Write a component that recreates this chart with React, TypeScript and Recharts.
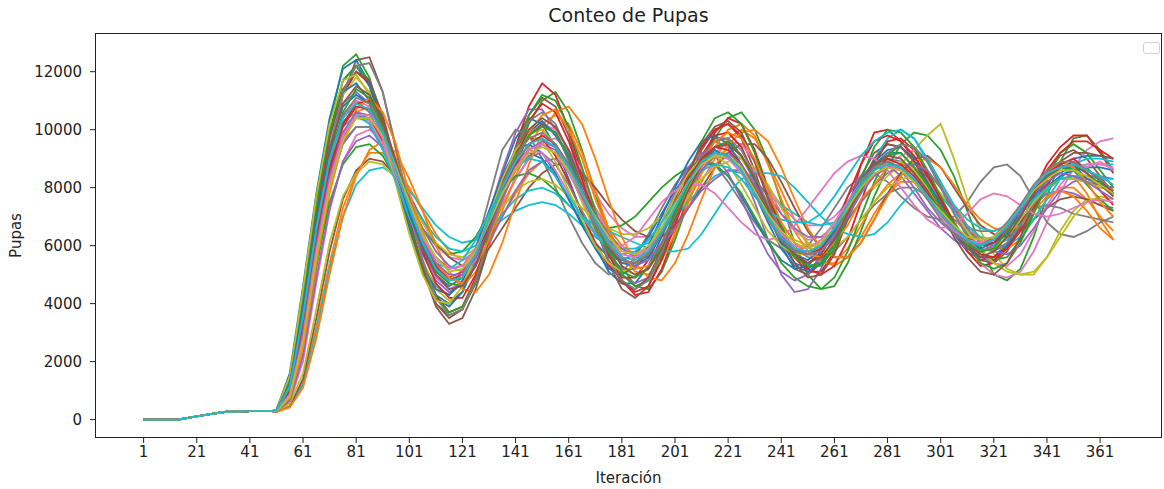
import React from 'react';
import { Line, LineChart, XAxis, YAxis, Label } from 'recharts';

// shared start of every run (all runs coincide here)
const earlyIters = [1, 14, 21, 26, 32, 41, 49];
const earlyPupas = [0, 0, 110, 190, 270, 290, 290];

// sampled iterations for each run after the start
const iters = [
  51, 56, 61, 66, 71, 76, 81, 86, 91, 96, 101, 106, 111, 116, 121, 126,
  131, 136, 141, 146, 151, 156, 161, 166, 171, 176, 181, 186, 191, 196, 201, 206,
  211, 216, 221, 226, 231, 236, 241, 246, 251, 256, 261, 266, 271, 276, 281, 286,
  291, 296, 301, 306, 311, 316, 321, 326, 331, 336, 341, 346, 351, 356, 361, 366,
];

const run01 = [
  320, 1400, 4200, 7300, 9800, 11700, 12200, 11500, 10000, 8400, 6800, 5300, 4200, 3900, 4400, 5600,
  7100, 8500, 9700, 10400, 10200, 9400, 8300, 7100, 6000, 5100, 4700, 4700, 5300, 6300, 7300, 8300,
  9100, 9700, 9700, 9100, 8200, 7100, 6100, 5400, 5200, 5500, 6300, 7200, 8100, 8800, 9200, 9200,
  8700, 8000, 7200, 6400, 5800, 5500, 5600, 6100, 6800, 7600, 8300, 8700, 8800, 8500, 8100, 7800,
];
const run02 = [
  280, 450, 1300, 3200, 5400, 7300, 8500, 9200, 9200, 8700, 8000, 7200, 6400, 5800, 5500, 5700,
  6300, 7000, 7800, 8500, 8900, 9000, 8700, 8100, 7300, 6600, 6000, 5700, 5600, 5900, 6500, 7300,
  8200, 9000, 9700, 10000, 9700, 8900, 7900, 6900, 6000, 5500, 5300, 5600, 6300, 7100, 7800, 8200,
  8200, 7900, 7400, 6900, 6500, 6300, 6200, 6300, 6700, 7300, 7900, 8300, 8400, 7800, 6900, 6200,
];
const run03 = [
  330, 1500, 4400, 7600, 10200, 12200, 12600, 11800, 10200, 8400, 6600, 5100, 4000, 3600, 3800, 4700,
  6000, 7600, 9000, 10200, 11000, 11300, 10600, 9300, 7800, 6400, 5300, 4600, 4500, 5100, 6200, 7500,
  8700, 9700, 10400, 10600, 10000, 8900, 7500, 6100, 5000, 4500, 4600, 5400, 6500, 7700, 8700, 9500,
  9900, 9800, 9300, 8400, 7200, 6000, 5000, 4800, 5200, 6300, 7700, 8900, 9700, 9800, 9300, 8600,
];
const run04 = [
  300, 1100, 3700, 6800, 9400, 11200, 12000, 11600, 10300, 8700, 7000, 5500, 4300, 3700, 3900, 4900,
  6300, 7900, 9400, 10800, 11600, 11200, 10000, 8500, 7000, 5800, 4800, 4300, 4400, 5200, 6400, 7700,
  8900, 9900, 10400, 10200, 9300, 8000, 6600, 5600, 5100, 5100, 5800, 7200, 8800, 9900, 10000, 9600,
  9000, 8300, 7500, 6600, 5800, 5300, 5400, 6000, 7000, 7900, 8800, 9400, 9800, 9800, 9200, 8500,
];
const run05 = [
  290, 700, 2600, 5600, 8000, 9500, 10100, 10100, 9400, 8300, 7100, 6000, 5200, 4800, 4900, 5500,
  6400, 7400, 8300, 9000, 9500, 9300, 8600, 7600, 6600, 5700, 5000, 4700, 4900, 5700, 6800, 8000,
  9000, 9600, 9400, 8600, 7500, 6200, 5000, 4400, 4500, 5200, 6200, 7300, 8300, 8900, 9000, 8600,
  8000, 7300, 6800, 6400, 6000, 5800, 5900, 6300, 6900, 7400, 7800, 7900, 7800, 7600, 7400, 7300,
];
const run06 = [
  270, 800, 3000, 6200, 9000, 11200, 12400, 12500, 11300, 9300, 7100, 5200, 3900, 3300, 3500, 4500,
  6000, 7700, 9300, 10500, 11100, 10800, 9800, 8300, 6700, 5400, 4500, 4200, 4600, 5600, 6900, 8200,
  9300, 10000, 10200, 9700, 8600, 7200, 6000, 5200, 5000, 5400, 6300, 7400, 8400, 9200, 9500, 9400,
  9000, 8300, 7500, 6700, 6000, 5500, 5400, 5800, 6600, 7600, 8500, 9100, 9300, 9000, 8400, 7800,
];
const run07 = [
  280, 600, 2000, 4700, 7200, 8900, 9800, 10000, 9600, 8800, 7800, 6800, 6000, 5600, 5500, 5800,
  6500, 7400, 8300, 9000, 9600, 9700, 9300, 8600, 7800, 7100, 6600, 6300, 6300, 6600, 7100, 7700,
  8300, 8800, 9100, 9000, 8600, 8000, 7400, 6900, 6700, 6700, 7000, 7500, 8000, 8400, 8700, 8800,
  8700, 8300, 7600, 6800, 6000, 5400, 5000, 4900, 5100, 5800, 6800, 7800, 8700, 9300, 9600, 9700,
];
const run08 = [
  310, 1200, 3800, 6800, 9100, 10500, 11000, 10600, 9600, 8200, 6700, 5400, 4600, 4300, 4700, 5900,
  7600, 9300, 10000, 9800, 9000, 8000, 7000, 6100, 5400, 5000, 5100, 5600, 6400, 7300, 8100, 8700,
  9000, 8800, 8200, 7500, 6800, 6200, 5900, 5800, 6000, 6600, 7300, 8000, 8400, 8500, 8200, 7700,
  7300, 7000, 6900, 7000, 7500, 8200, 8700, 8800, 8400, 7600, 6800, 6400, 6300, 6500, 6800, 7000,
];
const run09 = [
  300, 1200, 3900, 7000, 9500, 11200, 11800, 11300, 10000, 8400, 6800, 5500, 4500, 4100, 4400, 5400,
  6800, 8100, 9200, 9900, 10000, 9500, 8600, 7500, 6500, 5700, 5200, 5000, 5200, 5900, 6800, 7700,
  8500, 9100, 9300, 9000, 8300, 7500, 6700, 6200, 6000, 6100, 6500, 7000, 7500, 8000, 8400, 8800,
  9300, 9800, 10200, 9000, 7600, 6500, 5700, 5200, 5000, 5000, 5600, 6500, 7200, 7600, 7600, 7500,
];
const run10 = [
  270, 450, 1200, 3000, 5200, 7000, 8100, 8600, 8700, 8400, 7900, 7300, 6700, 6300, 6100, 6200,
  6500, 6900, 7200, 7400, 7500, 7400, 7100, 6700, 6300, 6000, 5900, 5900, 6100, 6500, 7000, 7500,
  8000, 8400, 8600, 8500, 8200, 7800, 7400, 7100, 6800, 6700, 6800, 7300, 8100, 9000, 9700, 10000,
  9700, 8900, 8000, 7200, 6500, 6100, 6000, 6200, 6700, 7300, 7900, 8400, 8700, 8800, 8800, 8800,
];
const run11 = [
  340, 1600, 4600, 7800, 10400, 12100, 12400, 11600, 10000, 8300, 6700, 5300, 4300, 4000, 4400, 5400,
  6600, 7800, 8800, 9200, 9000, 8400, 7600, 6800, 6100, 5600, 5500, 5700, 6300, 7100, 7900, 8500,
  8800, 8800, 8400, 7700, 6900, 6100, 5500, 5200, 5300, 5800, 6600, 7500, 8300, 8800, 9000, 8900,
  8500, 7900, 7200, 6600, 6200, 6000, 6100, 6500, 7100, 7800, 8400, 8800, 9000, 9100, 9100, 9000,
];
const run12 = [
  280, 650, 2300, 5200, 7800, 9600, 10600, 10800, 10200, 9000, 7600, 6300, 5300, 4700, 4600, 5100,
  6000, 7200, 8400, 9400, 10200, 10500, 10200, 9200, 7900, 6600, 5600, 5100, 5000, 5500, 6400, 7500,
  8500, 9400, 10000, 10200, 9800, 8800, 7600, 6500, 5800, 5400, 5400, 5900, 6700, 7500, 8100, 8500,
  8600, 8500, 8000, 7400, 6700, 6200, 5900, 5900, 6200, 6900, 7600, 8000, 8000, 7600, 7000, 6500,
];
const run13 = [
  290, 800, 2600, 5300, 7500, 8800, 9400, 9500, 9100, 8300, 7400, 6600, 6000, 5700, 5800, 6300,
  7100, 7900, 8400, 8500, 8300, 7900, 7400, 7000, 6700, 6600, 6700, 7000, 7500, 8000, 8400, 8700,
  8900, 8800, 8400, 7800, 7000, 6200, 5400, 4900, 4600, 4500, 4900, 5800, 7000, 8200, 9100, 9500,
  9400, 8900, 8100, 7200, 6400, 5800, 5500, 5600, 6200, 7200, 8300, 9200, 9500, 9200, 8600, 8000,
];
const run14 = [
  300, 1000, 3200, 6100, 8500, 9900, 10500, 10400, 9600, 8400, 7100, 6000, 5200, 4900, 5100, 5900,
  7000, 8200, 9200, 9700, 9700, 9100, 8200, 7100, 6100, 5300, 4900, 4900, 5500, 6500, 7600, 8600,
  9400, 10000, 10200, 9800, 8900, 7700, 6600, 5700, 5200, 5000, 5300, 6200, 7500, 8800, 9600, 9700,
  9300, 8500, 7600, 6700, 6000, 5600, 5500, 5900, 6700, 7700, 8600, 9200, 9600, 9600, 9300, 9000,
];
const run15 = [
  310, 1300, 4000, 7000, 9400, 10900, 11300, 10900, 9800, 8400, 7000, 5700, 4800, 4400, 4700, 5700,
  7100, 8600, 9900, 10700, 10700, 10000, 8900, 7700, 6600, 5700, 5200, 5200, 5800, 6800, 7800, 8700,
  9200, 9100, 8500, 7600, 6600, 5700, 5100, 4800, 5000, 5700, 6700, 7700, 8400, 8800, 8800, 8400,
  7800, 7200, 6600, 6200, 5900, 5800, 6000, 6500, 7100, 7700, 8100, 8300, 8300, 8200, 8100, 8000,
];
const run16 = [
  270, 450, 1400, 3500, 5800, 7600, 8600, 9000, 8900, 8400, 7700, 6900, 6100, 5600, 5300, 5400,
  5900, 6600, 7300, 8000, 8500, 8800, 8800, 8500, 8000, 7400, 6900, 6500, 6300, 6300, 6700, 7300,
  8000, 8700, 9200, 9500, 9500, 9000, 8200, 7300, 6500, 5900, 5600, 5600, 6100, 6900, 7800, 8500,
  9000, 9100, 8700, 8000, 7300, 6700, 6400, 6300, 6500, 6900, 7300, 7600, 7700, 7600, 7400, 7200,
];
const run17 = [
  300, 1100, 3500, 6500, 8900, 10400, 11000, 10800, 9800, 8400, 7000, 5800, 4900, 4500, 4700, 5500,
  6700, 7900, 9000, 9800, 10200, 10000, 9300, 8300, 7300, 6400, 5900, 5700, 5900, 6500, 7200, 8000,
  8700, 9200, 9600, 9500, 8900, 8000, 7100, 6500, 6200, 6300, 6700, 7300, 7900, 8400, 8800, 9100,
  9300, 9000, 8200, 7200, 6300, 5700, 5400, 5300, 5700, 6500, 7400, 8100, 8600, 8800, 8800, 8700,
];
const run18 = [
  290, 800, 2800, 5700, 8100, 9600, 10100, 10100, 9500, 8500, 7300, 6300, 5600, 5200, 5300, 5900,
  6800, 7800, 8600, 9100, 9200, 8800, 8100, 7200, 6400, 5800, 5400, 5400, 5800, 6600, 7500, 8300,
  9000, 9400, 9500, 9100, 8300, 7400, 6500, 5900, 5600, 5500, 5800, 6300, 6900, 7400, 7800, 8000,
  8000, 7700, 7300, 6900, 6600, 6500, 6500, 6700, 7000, 7300, 7400, 7300, 7100, 7000, 6900, 6800,
];
const run19 = [
  280, 550, 1600, 3800, 6100, 7700, 8500, 8900, 8800, 8300, 7600, 6800, 6100, 5700, 5600, 5900,
  6600, 7300, 7900, 8200, 8300, 8100, 7700, 7300, 6900, 6600, 6400, 6400, 6600, 7000, 7400, 7900,
  8300, 8700, 8900, 9000, 8700, 8100, 7300, 6600, 6100, 5900, 5900, 6300, 6900, 7500, 8000, 8300,
  8400, 8200, 7800, 7200, 6500, 5900, 5400, 5100, 5000, 5100, 5600, 6300, 7000, 7500, 7700, 7600,
];
const run20 = [
  300, 1200, 3800, 6700, 9000, 10300, 10600, 10300, 9500, 8500, 7600, 6900, 6300, 5900, 5800, 6000,
  6500, 7100, 7600, 7900, 8000, 7800, 7400, 7000, 6700, 6500, 6300, 6100, 5900, 5800, 5800, 5900,
  6400, 7100, 7800, 8300, 8500, 8500, 8400, 8000, 7500, 7000, 6600, 6400, 6300, 6400, 6800, 7400,
  7900, 8000, 7700, 7200, 6700, 6300, 6000, 6000, 6300, 6900, 7600, 8300, 8800, 9000, 9000, 8900,
];
const run21 = [
  320, 1400, 4300, 7400, 9900, 11300, 11600, 11000, 9800, 8200, 6600, 5300, 4500, 4300, 4800, 5900,
  7200, 8400, 9300, 9500, 9200, 8500, 7600, 6700, 5900, 5200, 5000, 5300, 6000, 7000, 8000, 8900,
  9600, 9800, 9500, 8800, 7800, 6800, 5900, 5300, 5100, 5400, 6100, 7100, 8100, 8900, 9300, 9400,
  9000, 8200, 7400, 6600, 6000, 5600, 5600, 6000, 6700, 7400, 8000, 8400, 8600, 8700, 8700, 8600,
];
const run22 = [
  270, 420, 1100, 2800, 5000, 7000, 8400, 9300, 9600, 9200, 8300, 7200, 6000, 5100, 4500, 4400,
  5000, 6100, 7500, 8800, 9900, 10600, 10800, 10200, 9000, 7600, 6300, 5400, 4900, 4800, 5400, 6400,
  7600, 8700, 9500, 9900, 10000, 9600, 8700, 7600, 6600, 5900, 5600, 5600, 6100, 6900, 7700, 8400,
  8900, 9000, 8700, 8100, 7400, 6900, 6600, 6500, 6700, 7200, 7700, 7900, 7700, 7200, 6600, 6200,
];
const run23 = [
  320, 1300, 4100, 7300, 9900, 11700, 12200, 11700, 10400, 8600, 6800, 5300, 4200, 3700, 3900, 4800,
  6200, 7800, 9300, 10500, 11200, 11000, 10100, 8700, 7200, 5900, 5000, 4600, 4800, 5700, 7000, 8400,
  9600, 10400, 10600, 10200, 9200, 7900, 6700, 5800, 5300, 5300, 5900, 7000, 8300, 9400, 10000, 9900,
  9400, 8600, 7700, 6800, 6000, 5400, 5200, 5400, 6100, 7100, 8100, 8700, 8600, 8100, 7600, 7200,
];
const run24 = [
  290, 900, 3000, 6000, 8500, 10200, 10900, 11000, 10200, 8800, 7200, 5800, 4700, 4200, 4200, 5000,
  6300, 7800, 9200, 10300, 10900, 10600, 9600, 8300, 6900, 5700, 4800, 4400, 4600, 5500, 6700, 8000,
  9100, 9800, 9900, 9400, 8400, 7200, 6200, 5600, 5400, 5700, 6500, 7700, 8800, 9600, 9800, 9600,
  9100, 8400, 7600, 6800, 6100, 5700, 5600, 5900, 6500, 7300, 8100, 8700, 8900, 8500, 7900, 7400,
];
const run25 = [
  280, 650, 2200, 4900, 7300, 8900, 9600, 9800, 9400, 8600, 7600, 6600, 5800, 5300, 5100, 5400,
  6100, 7000, 7900, 8600, 8900, 9000, 8600, 7900, 7100, 6400, 5900, 5600, 5600, 6000, 6600, 7300,
  7900, 8300, 8600, 8600, 8300, 7700, 7100, 6600, 6300, 6300, 6400, 6900, 7500, 8100, 8500, 8800,
  8800, 8600, 8000, 7300, 6600, 6100, 5800, 5700, 6000, 6600, 7300, 7900, 8200, 8400, 8400, 8300,
];
const run26 = [
  300, 1100, 3800, 7000, 9700, 11400, 12000, 11700, 10500, 8800, 6900, 5200, 4000, 3500, 3800, 4800,
  6200, 7600, 8800, 9800, 10200, 9900, 9100, 7900, 6600, 5500, 4700, 4500, 4900, 5900, 7200, 8500,
  9500, 10100, 10300, 9900, 8900, 7600, 6300, 5400, 4900, 5000, 5700, 6900, 8100, 9000, 9500, 9400,
  8900, 8100, 7200, 6300, 5600, 5100, 5000, 5400, 6300, 7400, 8300, 8900, 9200, 9200, 9100, 9000,
];
const run27 = [
  290, 900, 2900, 5900, 8300, 9800, 10400, 10300, 9500, 8300, 7000, 5900, 5100, 4800, 5000, 5800,
  7000, 8100, 8900, 9300, 9200, 8600, 7800, 7000, 6400, 6000, 6000, 6300, 6900, 7500, 7900, 8100,
  8100, 7800, 7300, 6800, 6400, 6200, 6300, 6700, 7300, 7900, 8500, 8900, 9100, 9000, 8600, 8000,
  7400, 6900, 6600, 6700, 7100, 7600, 7800, 7700, 7400, 7100, 7000, 7100, 7300, 7500, 7600, 7500,
];
const run28 = [
  280, 900, 3200, 6500, 9300, 11300, 12200, 12300, 11300, 9400, 7300, 5500, 4200, 3600, 3800, 4800,
  6300, 7900, 9300, 10300, 10600, 10200, 9200, 7900, 6600, 5500, 4800, 4500, 4800, 5800, 7000, 8200,
  9100, 9600, 9700, 9300, 8400, 7400, 6500, 5900, 5700, 5800, 6400, 7200, 8000, 8700, 9200, 9500,
  9400, 8900, 8000, 7100, 6300, 5900, 5800, 6100, 6700, 7400, 8000, 8300, 8400, 8300, 8100, 8000,
];
const run29 = [
  330, 1500, 4500, 7700, 10200, 11700, 11900, 11200, 9800, 8100, 6400, 5000, 4100, 4000, 4600, 5700,
  7000, 8300, 9300, 9800, 9600, 8900, 7900, 6900, 6000, 5400, 5100, 5300, 5900, 6800, 7700, 8500,
  9000, 9100, 8800, 8100, 7300, 6500, 6000, 5700, 5700, 6100, 6800, 7500, 8200, 8600, 8900, 8900,
  8600, 8000, 7300, 6600, 6100, 5800, 5900, 6300, 6900, 7500, 8000, 8300, 8300, 8200, 8000, 7900,
];
const run30 = [
  300, 1200, 3700, 6600, 8800, 10100, 10500, 10200, 9300, 8200, 7000, 6000, 5400, 5200, 5500, 6200,
  7100, 8000, 8700, 9000, 8900, 8400, 7700, 7000, 6400, 5900, 5700, 5800, 6200, 6800, 7500, 8100,
  8600, 8800, 8700, 8300, 7700, 7200, 6900, 6800, 6800, 7100, 7700, 8400, 9100, 9600, 9900, 10000,
  9700, 9000, 8200, 7400, 6900, 6600, 6500, 6700, 7100, 7600, 8000, 8300, 8400, 8400, 8300, 8300,
];
const run31 = [
  310, 1250, 3900, 7000, 9300, 10800, 11200, 10900, 9900, 8600, 7100, 5900, 5000, 4600, 4900, 5700,
  6800, 8100, 9100, 9900, 10300, 9800, 9100, 7900, 6900, 5900, 5400, 5300, 5600, 6400, 7300, 8300,
  8800, 9300, 9000, 8700, 7800, 7000, 6100, 5700, 5500, 5900, 6500, 7400, 8000, 8700, 8900, 8600,
  8300, 7600, 7100, 6400, 6200, 5900, 6100, 6400, 7200, 7700, 8400, 8500, 8800, 8300, 8200, 7700,
];
const run32 = [
  290, 750, 2500, 5400, 7900, 9700, 10700, 11100, 10600, 9500, 7800, 6500, 5400, 4900, 4700, 5300,
  6200, 7500, 8900, 9900, 10500, 10700, 10000, 9000, 7600, 6500, 5600, 5200, 5300, 6000, 6900, 8000,
  8800, 9600, 9900, 9700, 9000, 7900, 6800, 6100, 5700, 5600, 6100, 6700, 7600, 8100, 8700, 8600,
  8300, 7700, 7300, 6600, 6300, 6000, 6200, 6600, 7300, 8000, 8500, 8900, 8700, 8200, 7500, 7000,
];
const run33 = [
  300, 1100, 3500, 6600, 9000, 10600, 11400, 11100, 10100, 8700, 7300, 6000, 5100, 4700, 4600, 5300,
  6500, 7700, 9000, 9800, 10100, 9900, 9000, 7900, 6800, 5800, 5100, 4900, 5200, 6100, 7100, 8100,
  8900, 9400, 9600, 9100, 8300, 7200, 6300, 5600, 5300, 5400, 6000, 7000, 7900, 8700, 9100, 9200,
  8700, 8100, 7300, 6800, 6100, 5800, 5900, 6500, 7000, 7800, 8300, 8800, 8600, 8700, 8200, 7900,
];
const run34 = [
  300, 1000, 3300, 6300, 8700, 10100, 10800, 10700, 9900, 8500, 7300, 6100, 5300, 4800, 5000, 5600,
  6700, 7900, 8800, 9500, 9800, 9500, 8800, 7800, 6900, 6000, 5500, 5400, 5700, 6500, 7400, 8300,
  9000, 9400, 9300, 8800, 8000, 7100, 6400, 5800, 5700, 5900, 6600, 7300, 8100, 8600, 9000, 8800,
  8400, 7800, 7200, 6600, 6300, 6000, 6100, 6600, 7200, 7900, 8500, 8800, 9000, 8600, 8300, 7800,
];
const run35 = [
  290, 900, 3000, 6000, 8400, 9900, 10600, 10500, 9800, 8600, 7300, 6200, 5400, 5000, 5000, 5600,
  6500, 7600, 8600, 9300, 9600, 9400, 8800, 7900, 7000, 6200, 5600, 5300, 5500, 6100, 6900, 7900,
  8600, 9100, 9200, 8800, 8100, 7300, 6500, 5900, 5700, 5800, 6300, 7000, 7800, 8400, 8700, 8700,
  8300, 7700, 7100, 6600, 6200, 6000, 6200, 6600, 7200, 7800, 8200, 8500, 8400, 8200, 7900, 7600,
];
const run36 = [
  310, 1200, 3700, 6800, 9200, 10900, 11500, 11200, 10300, 8900, 7400, 6000, 5000, 4500, 4600, 5300,
  6600, 7900, 9100, 10000, 10400, 10100, 9300, 8100, 7000, 6000, 5300, 5000, 5200, 5900, 6900, 7900,
  8800, 9400, 9500, 9100, 8300, 7300, 6300, 5700, 5400, 5600, 6200, 7100, 8000, 8800, 9100, 9000,
  8500, 7900, 7100, 6500, 5900, 5600, 5800, 6300, 7000, 7800, 8400, 8700, 8800, 8500, 8100, 7700,
];
const run37 = [
  290, 850, 2800, 5800, 8200, 9800, 10500, 10500, 9700, 8500, 7400, 6300, 5500, 5200, 5300, 5900,
  6800, 7800, 8700, 9300, 9500, 9200, 8500, 7600, 6800, 6100, 5700, 5600, 5900, 6600, 7400, 8200,
  8800, 9100, 9000, 8500, 7800, 7000, 6400, 6000, 5900, 6200, 6800, 7500, 8200, 8700, 8800, 8600,
  8200, 7600, 7000, 6500, 6200, 6100, 6300, 6800, 7400, 8000, 8500, 8700, 8800, 8700, 8900, 8600,
];
const run38 = [
  300, 1100, 3500, 6500, 8900, 10500, 11100, 10900, 10000, 8700, 7300, 6100, 5200, 4800, 4900, 5700,
  6900, 8100, 9100, 9700, 9900, 9500, 8700, 7700, 6800, 6000, 5500, 5400, 5700, 6400, 7300, 8200,
  8900, 9200, 9100, 8600, 7800, 6900, 6200, 5800, 5700, 6000, 6600, 7400, 8200, 8700, 8900, 8700,
  8200, 7600, 6900, 6400, 6100, 6000, 6300, 6800, 7400, 8100, 8600, 8900, 8900, 8600, 8300, 7900,
];
const run39 = [
  280, 800, 2700, 5600, 8000, 9600, 10400, 10400, 9800, 8700, 7500, 6400, 5600, 5100, 5200, 5800,
  6800, 7800, 8600, 9200, 9400, 9200, 8600, 7800, 7000, 6300, 5800, 5700, 6000, 6600, 7400, 8200,
  8800, 9100, 9100, 8700, 7900, 7100, 6500, 6100, 5900, 6100, 6600, 7300, 8000, 8500, 8700, 8600,
  8200, 7700, 7200, 6700, 6300, 6200, 6300, 6700, 7300, 7900, 8300, 8600, 8600, 8400, 8100, 7800,
];
const run40 = [
  300, 1150, 3600, 6600, 9000, 10400, 10900, 10700, 9900, 8600, 7300, 6100, 5200, 4800, 4900, 5700,
  6900, 8000, 8900, 9500, 9700, 9400, 8700, 7800, 6900, 6100, 5600, 5500, 5800, 6500, 7300, 8200,
  8900, 9200, 9100, 8600, 7800, 7000, 6300, 5900, 5800, 6000, 6600, 7400, 8100, 8600, 8800, 8700,
  8300, 7700, 7100, 6600, 6200, 6000, 6200, 6700, 7300, 8000, 8500, 8700, 8800, 8600, 8400, 8100,
];

const runs = [
  run01, run02, run03, run04, run05, run06, run07, run08, run09, run10,
  run11, run12, run13, run14, run15, run16, run17, run18, run19, run20,
  run21, run22, run23, run24, run25, run26, run27, run28, run29, run30,
  run31, run32, run33, run34, run35, run36, run37, run38, run39, run40,
];

const xTicks = [1, 21, 41, 61, 81, 101, 121, 141, 161, 181, 201, 221, 241, 261, 281, 301, 321, 341, 361];
const yTicks = [0, 2000, 4000, 6000, 8000, 10000, 12000];

// matplotlib default colour cycle
const palette = [
  '#1f77b4', '#ff7f0e', '#2ca02c', '#d62728', '#9467bd',
  '#8c564b', '#e377c2', '#7f7f7f', '#bcbd22', '#17becf',
];

const FONT = "'DejaVu Sans', sans-serif";

const toPoints = (vals: number[]) => [
  ...earlyIters.map((x, i) => ({ x, y: earlyPupas[i] })),
  ...iters.map((x, i) => ({ x, y: vals[i] })),
];

const App: React.FC = () => {
  return (
    <div
      style={{
        position: 'absolute',
        left: 0,
        top: 0,
        width: 1164,
        height: 489,
        background: '#fff',
        fontFamily: FONT,
      }}
    >
      <div
        style={{
          position: 'absolute',
          left: 95,
          width: 1067,
          top: 4,
          textAlign: 'center',
          fontSize: 19,
          color: '#222',
        }}
      >
        Conteo de Pupas
      </div>

      <LineChart width={1164} height={489} margin={{ top: 33, right: 2, bottom: 6, left: 0 }}>
        <XAxis
          dataKey="x"
          type="number"
          domain={[-17.3, 384.3]}
          ticks={xTicks}
          allowDataOverflow
          height={45}
          axisLine={false}
          tickSize={5}
          tickMargin={3}
          tickLine={{ stroke: '#222' }}
          tick={{ fontSize: 15, fill: '#222', fontFamily: FONT }}
        >
          <Label value="Iteración" position="insideBottom" offset={0} style={{ fontSize: 15, fill: '#222', fontFamily: FONT }} />
        </XAxis>
        <YAxis
          type="number"
          domain={[-635, 13335]}
          ticks={yTicks}
          allowDataOverflow
          width={95}
          axisLine={false}
          tickSize={5}
          tickMargin={8}
          tickLine={{ stroke: '#222' }}
          tick={{ fontSize: 15, fill: '#222', fontFamily: FONT }}
        >
          <Label
            value="Pupas"
            angle={-90}
            position="insideLeft"
            offset={16}
            style={{ fontSize: 15, fill: '#222', fontFamily: FONT, textAnchor: 'middle' }}
          />
        </YAxis>
        {runs.map((vals, i) => (
          <Line
            key={i}
            data={toPoints(vals)}
            dataKey="y"
            type="linear"
            stroke={palette[i % palette.length]}
            strokeWidth={1.8}
            dot={false}
            activeDot={false}
            isAnimationActive={false}
          />
        ))}
      </LineChart>

      {/* axes frame */}
      <div
        style={{
          position: 'absolute',
          left: 95,
          top: 33,
          width: 1067,
          height: 405,
          border: '1px solid #222',
          boxSizing: 'border-box',
          pointerEvents: 'none',
        }}
      />
      {/* empty legend box */}
      <div
        style={{
          position: 'absolute',
          left: 1143,
          top: 42,
          width: 17,
          height: 12,
          border: '1px solid #d0d0d0',
          borderRadius: 3,
          boxSizing: 'border-box',
          background: '#fff',
        }}
      />
    </div>
  );
};

export default App;
